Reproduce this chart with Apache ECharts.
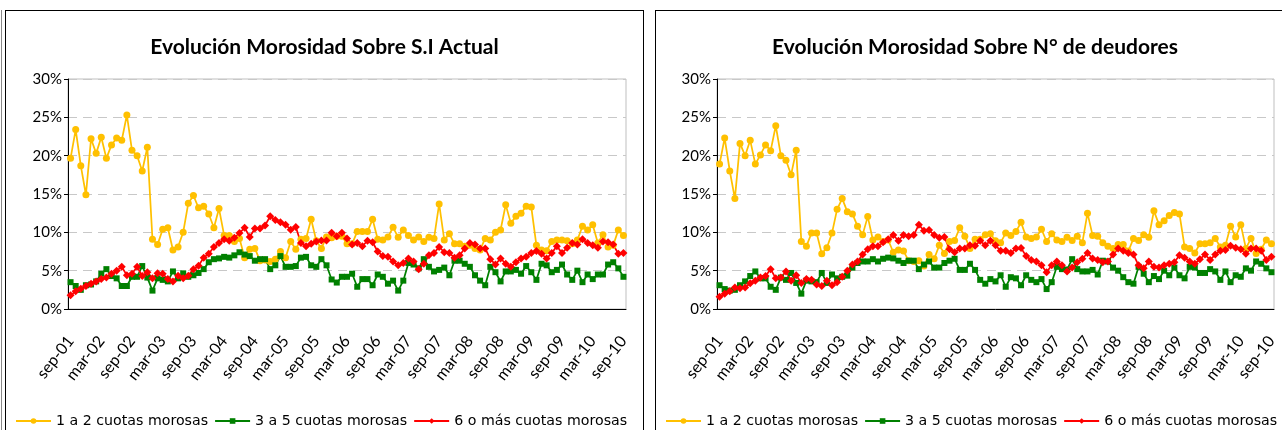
<!DOCTYPE html>
<html lang="es">
<head>
<meta charset="utf-8">
<script src="https://cdn.jsdelivr.net/npm/echarts@6/dist/echarts.min.js"></script>
<style>
    body { margin: 0; background: #fff; width: 1282px; height: 430px; overflow: hidden; position: relative; }
    .panel { position: absolute; top: 10px; height: 440px; border: 1px solid #000; box-sizing: border-box; background: #fff; }
    #chartSI { left: 5px; width: 639px; }
    #chartDeud { left: 655px; width: 640px; }
    .edge { position: absolute; left: 1px; top: 10px; width: 1px; height: 430px; background: #888; }
</style>
<script>
    // meses para las etiquetas del eje x (sep-01 ... sep-10)
    var meses = ['ene', 'feb', 'mar', 'abr', 'may', 'jun', 'jul', 'ago', 'sep', 'oct', 'nov', 'dic'];
    var categorias = [];
    for (var k = 0; k < 109; k++) {
        var m = (8 + k) % 12;
        var a = 1 + Math.floor((8 + k) / 12);
        categorias.push(meses[m] + '-' + (a < 10 ? '0' + a : '' + a));
    }

    var nombres = ['1 a 2 cuotas morosas', '3 a 5 cuotas morosas', '6 o más cuotas morosas'];
    var yTicks = [0, 5, 10, 15, 20, 25, 30];

    // Morosidad sobre S.I actual (%)
    var si12 = [19.65, 23.4, 18.7, 14.9, 22.2, 20.3, 22.4, 19.65, 21.4, 22.3, 22.0, 25.3, 20.7, 20.0, 18.0, 21.1, 9.1, 8.4, 10.4, 10.6, 7.7, 8.1, 10.0, 13.8, 14.8, 13.2, 13.4, 12.4,
        10.6, 13.1, 9.6, 9.6, 8.8, 9.2, 6.7, 7.8, 7.9, 6.3, 6.4, 6.2, 6.5, 7.5, 6.7, 8.8, 7.8, 9.1, 9.2, 11.7, 8.9, 7.9, 9.4, 9.3, 9.5, 9.5, 8.5, 8.5,
        10.1, 10.1, 10.1, 11.7, 9.1, 9.0, 9.4, 10.65, 9.35, 10.3, 9.6, 9.0, 9.4, 8.8, 9.35, 9.2, 13.7, 9.0, 9.8, 8.5, 8.5, 8.2, 8.3, 7.9, 7.7, 9.2,
        9.0, 10.0, 10.3, 13.6, 11.2, 12.1, 12.5, 13.4, 13.3, 8.3, 7.7, 7.6, 8.8, 9.0, 9.0, 8.9, 8.5, 9.0, 10.8, 10.3, 11.0, 8.6, 9.7, 8.1, 8.3, 10.3, 9.6];
    var si35 = [3.5, 3.0, 2.5, 3.1, 3.2, 3.6, 4.6, 5.2, 4.3, 4.0, 3.0, 3.0, 4.2, 4.2, 5.6, 4.1, 2.4, 4.0, 3.8, 3.6, 4.9, 4.0, 4.65, 4.2, 4.4, 4.7, 5.2, 6.1,
        6.5, 6.6, 6.8, 6.7, 7.0, 7.4, 7.1, 6.9, 6.3, 6.5, 6.5, 5.2, 5.7, 6.9, 5.5, 5.5, 5.6, 6.7, 6.8, 5.7, 5.5, 6.5, 5.7, 3.85, 3.45, 4.2, 4.2, 4.6,
        2.9, 3.9, 3.9, 3.1, 4.5, 4.2, 3.3, 3.7, 2.4, 3.7, 6.0, 5.8, 5.3, 6.5, 5.5, 4.9, 5.1, 5.4, 4.4, 6.3, 6.3, 5.9, 5.5, 4.4, 3.7, 3.1,
        5.5, 4.8, 3.6, 4.9, 4.9, 5.1, 4.6, 5.6, 4.8, 3.8, 5.9, 5.7, 4.8, 5.1, 5.8, 4.5, 3.8, 5.0, 3.5, 4.5, 3.9, 4.5, 4.5, 5.8, 6.1, 5.3, 4.2];
    var si6 = [1.8, 2.3, 2.65, 3.0, 3.3, 3.6, 3.9, 4.1, 4.6, 5.0, 5.5, 4.4, 4.6, 5.5, 4.3, 4.8, 4.0, 4.65, 4.6, 3.9, 3.6, 4.35, 4.0, 4.35, 5.2, 5.65, 6.7, 7.2,
        8.1, 8.6, 9.1, 8.9, 9.3, 9.9, 10.6, 9.4, 10.5, 10.5, 10.9, 12.1, 11.6, 11.3, 11.0, 10.35, 10.7, 8.6, 8.2, 8.5, 8.8, 8.95, 8.95, 9.95, 9.5, 9.95, 9.2, 8.4,
        8.6, 8.2, 8.9, 8.7, 7.5, 6.9, 6.8, 6.2, 5.7, 6.0, 6.6, 6.2, 5.2, 5.9, 7.0, 7.3, 8.1, 7.4, 7.3, 6.7, 7.0, 7.9, 8.6, 8.4, 7.9, 7.9,
        6.5, 5.8, 6.6, 5.9, 5.5, 6.1, 6.6, 6.8, 7.3, 7.55, 7.2, 6.6, 7.3, 8.2, 7.3, 8.0, 8.6, 8.4, 9.1, 8.6, 8.3, 8.0, 8.8, 8.7, 8.4, 7.2, 7.3];

    // Morosidad sobre N° de deudores (%)
    var nd12 = [18.9, 22.3, 18.0, 14.4, 21.6, 20.0, 22.0, 18.9, 20.1, 21.4, 20.65, 23.9, 20.0, 19.4, 17.5, 20.7, 8.8, 8.2, 9.9, 9.9, 7.2, 8.0, 9.9, 13.0, 14.4, 12.7,
        12.4, 10.8, 9.7, 12.05, 9.0, 9.4, 8.8, 9.0, 7.4, 7.7, 7.55, 6.3, 6.2, 6.3, 5.6, 7.1, 6.55, 8.3, 7.25, 8.8, 8.95, 10.6, 9.5, 7.9, 9.1, 9.1, 9.7,
        9.8, 8.9, 8.65, 9.9, 9.6, 10.1, 11.3, 9.4, 9.2, 9.4, 10.4, 8.8, 9.8, 9.0, 8.8, 9.35, 8.95, 9.5, 8.65, 12.5, 9.6, 9.5, 8.65, 8.2, 7.9, 8.4, 8.4, 7.55,
        9.2, 8.95, 9.7, 9.35, 12.8, 11.0, 11.5, 12.2, 12.6, 12.4, 8.1, 7.9, 7.3, 8.5, 8.5, 8.65, 9.2, 8.1, 8.3, 10.8, 9.4, 11.0, 7.9, 9.2, 7.25, 7.8, 9.0, 8.5];
    var nd35 = [3.1, 2.6, 2.4, 2.5, 3.1, 3.6, 4.3, 4.9, 4.0, 4.0, 2.9, 2.5, 4.1, 3.8, 4.7, 3.4, 2.0, 3.7, 3.6, 3.5, 4.7, 3.4, 4.5, 4.0, 4.2, 4.35,
        5.4, 6.0, 6.2, 6.2, 6.5, 6.2, 6.55, 6.7, 6.6, 6.3, 6.0, 6.3, 6.3, 5.2, 5.8, 6.2, 5.4, 5.4, 6.0, 6.3, 6.55, 5.1, 5.1, 5.9, 5.1, 3.8, 3.3,
        3.9, 3.6, 4.4, 2.9, 4.15, 4.0, 3.1, 4.4, 3.8, 3.5, 3.9, 2.6, 3.5, 5.5, 5.2, 5.15, 6.5, 5.2, 4.9, 4.9, 5.1, 4.5, 6.3, 6.2, 5.4, 5.0, 4.15, 3.5,
        3.3, 5.5, 4.6, 3.5, 4.3, 3.9, 5.0, 4.4, 5.4, 4.4, 4.0, 5.5, 5.4, 4.7, 4.7, 5.2, 4.9, 3.8, 4.9, 3.5, 4.4, 4.2, 5.3, 5.0, 6.2, 5.9, 5.3, 4.8];
    var nd6 = [1.6, 2.0, 2.3, 2.8, 2.7, 2.8, 3.35, 3.7, 4.1, 4.3, 5.2, 4.0, 4.1, 4.9, 3.7, 4.4, 3.4, 3.9, 3.8, 3.2, 3.0, 3.7, 3.1, 3.5, 4.2, 5.0,
        5.8, 6.2, 7.1, 7.8, 8.2, 8.2, 8.7, 9.1, 9.65, 8.9, 9.65, 9.5, 9.65, 11.0, 10.2, 10.3, 9.65, 9.3, 9.4, 7.8, 7.4, 7.9, 7.9, 8.3, 8.25, 8.9, 8.3,
        8.9, 8.3, 7.6, 7.6, 7.3, 7.9, 7.95, 6.9, 6.4, 6.2, 5.7, 4.8, 5.7, 6.2, 5.7, 4.9, 5.4, 6.1, 6.55, 7.3, 6.6, 6.4, 6.1, 6.2, 7.1, 7.9, 7.6, 7.3,
        7.1, 5.7, 5.3, 6.2, 5.5, 5.4, 5.7, 5.9, 6.1, 7.0, 6.7, 6.2, 5.9, 6.5, 7.1, 6.4, 7.1, 7.6, 7.7, 8.25, 8.0, 7.8, 7.2, 7.9, 7.9, 7.6, 6.4, 6.8];

    var fuente = 'Lato, "Liberation Sans", sans-serif';

    function serie(nombre, datos, color, simbolo, tam) {
        return {
            name: nombre,
            type: 'line',
            data: datos,
            symbol: simbolo,
            symbolSize: tam,
            showSymbol: true,
            showAllSymbol: true,
            animation: false,
            lineStyle: { color: color, width: 1.75 },
            itemStyle: { color: color }
        };
    }

    function opciones(titulo, gridLeft, gridWidth, d12, d35, d6) {
        return {
            animation: false,
            title: {
                text: titulo,
                left: 'center',
                top: 21,
                textStyle: { fontFamily: fuente, fontSize: 21, fontWeight: 'bold', color: '#000' }
            },
            legend: {
                data: nombres,
                left: 4,
                top: 398,
                width: 760,
                itemWidth: 35,
                itemHeight: 7,
                itemGap: 6,
                textStyle: { fontFamily: '"DejaVu Sans", Verdana, sans-serif', fontSize: 14.2, color: '#000' }
            },
            grid: {
                left: gridLeft, top: 68, width: gridWidth, height: 230,
                show: true, borderColor: '#bfbfbf', borderWidth: 1
            },
            xAxis: {
                type: 'category',
                data: categorias,
                boundaryGap: true,
                axisLine: { lineStyle: { color: '#000', width: 1 } },
                axisTick: { interval: 0, length: 4, lineStyle: { color: '#000' } },
                axisLabel: {
                    interval: 5, rotate: 52, margin: 29,
                    fontFamily: fuente, fontSize: 16, color: '#000'
                },
                splitLine: { show: false }
            },
            yAxis: {
                type: 'value',
                min: yTicks[0],
                max: yTicks[yTicks.length - 1],
                interval: 5,
                axisLine: { show: true, lineStyle: { color: '#000', width: 1 } },
                axisTick: { show: true, length: 4, lineStyle: { color: '#000' } },
                axisLabel: { formatter: '{value}%', fontFamily: fuente, fontSize: 15, color: '#000', margin: 6 },
                splitLine: { lineStyle: { color: '#c8c8c8', type: [9, 6], width: 1 } }
            },
            series: [
                serie(nombres[0], d12, '#FFC000', 'circle', 7),
                serie(nombres[1], d35, '#008000', 'rect', 6),
                serie(nombres[2], d6, '#FF0000', 'diamond', 8)
            ]
        };
    }

    window.onload = function () {
        var c1 = echarts.init(document.getElementById('chartSI'));
        c1.setOption(opciones('Evolución Morosidad Sobre S.I Actual', 62, 558, si12, si35, si6));
        var c2 = echarts.init(document.getElementById('chartDeud'));
        c2.setOption(opciones('Evolución Morosidad Sobre N° de deudores', 61, 557, nd12, nd35, nd6));
    };
</script>
</head>
<body>
<div class="edge"></div>
<div class="panel" id="chartSI"></div>
<div class="panel" id="chartDeud"></div>
</body>
</html>
